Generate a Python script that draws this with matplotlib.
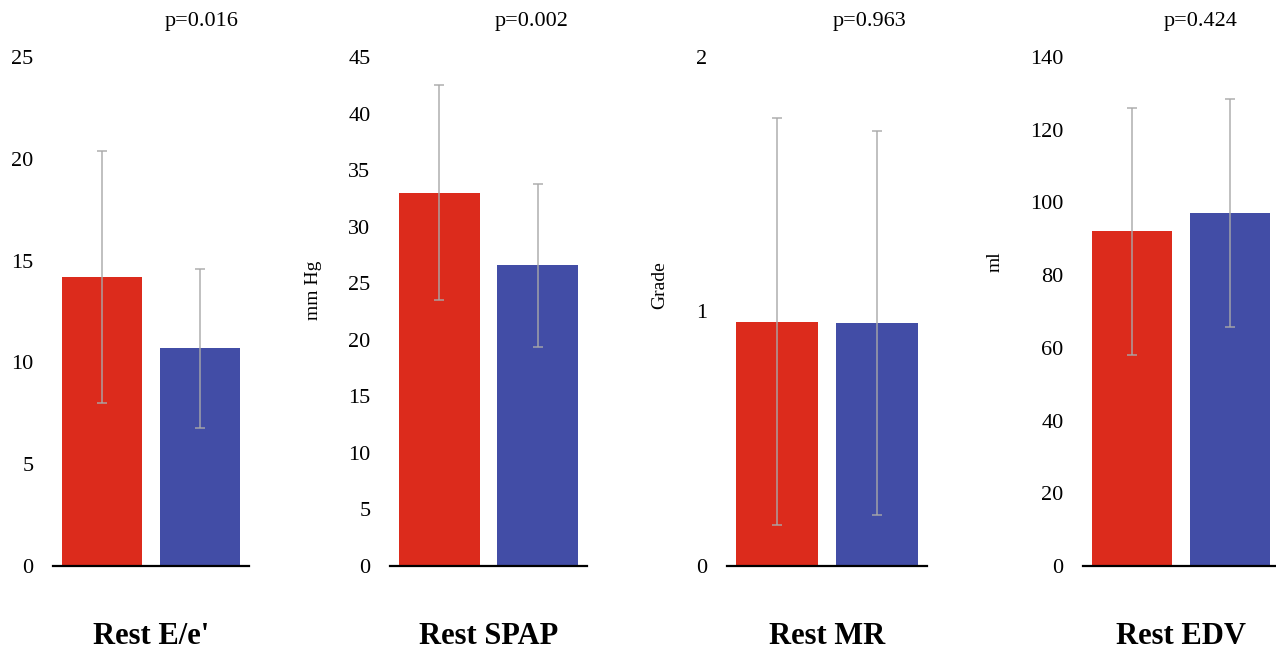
import numpy as np
import matplotlib
matplotlib.use("Agg")
import matplotlib.pyplot as plt

plt.rcParams["font.family"] = "serif"
plt.rcParams["font.serif"] = ["Liberation Serif", "DejaVu Serif"]

# group means and SDs (red group, blue group) for each rest parameter
titles = ["Rest E/e'", "Rest SPAP", "Rest MR", "Rest EDV"]
p_values = ["p=0.016", "p=0.002", "p=0.963", "p=0.424"]
y_labels = ["", "mm Hg", "Grade", "ml"]
means = [[14.2, 10.7], [33.0, 26.6], [0.96, 0.955], [92.1, 97.1]]
sds = [[6.2, 3.9], [9.5, 7.2], [0.80, 0.755], [34.0, 31.4]]
y_max = [25, 45, 2, 140]
y_step = [5, 5, 1, 20]

bar_colors = ["#DC2B1C", "#424DA6"]

# axes placement in pixels (left, width)
px_left = [53, 390, 727, 1083]
px_width = [196, 197, 200, 196]
p_xpos = [0.76, 0.72, 0.715, 0.60]
ylab_xpos = [0, -0.39, -0.335, -0.45]
ylab_ypos = [0, 0.542, 0.552, 0.597]

W, H = 1276, 651
fig = plt.figure(figsize=(W / 100, H / 100), dpi=100)

for i in range(4):
    ax = fig.add_axes([px_left[i] / W, 1 - 566 / H, px_width[i] / W, 509 / H])
    x = np.arange(2)
    ax.bar(x, means[i], width=0.82, color=bar_colors, zorder=2)
    ax.errorbar(x, means[i], yerr=sds[i], fmt="none", ecolor="#A8A8A8",
                elinewidth=1.2, capsize=3.5, capthick=1.2, alpha=0.85, zorder=3)

    ax.set_xlim(-0.5, 1.5)
    ax.set_ylim(0, y_max[i])
    ax.set_yticks(np.arange(0, y_max[i] + y_step[i] / 2, y_step[i]))
    ax.set_xticks([])
    ax.tick_params(axis="y", length=0, pad=14, labelsize=16)

    for side in ["top", "right", "left"]:
        ax.spines[side].set_visible(False)
    ax.spines["bottom"].set_linewidth(1.6)
    ax.spines["bottom"].set_color("black")

    ax.text(0.5, -0.138, titles[i], transform=ax.transAxes, ha="center",
            va="center", fontsize=22, fontweight="bold")
    ax.text(p_xpos[i], 1.069, p_values[i], transform=ax.transAxes,
            ha="center", va="center", fontsize=16)
    if y_labels[i]:
        ax.text(ylab_xpos[i], ylab_ypos[i], y_labels[i], transform=ax.transAxes,
                rotation=90, ha="center", va="center", fontsize=14)

fig.savefig("out.png", dpi=100)
